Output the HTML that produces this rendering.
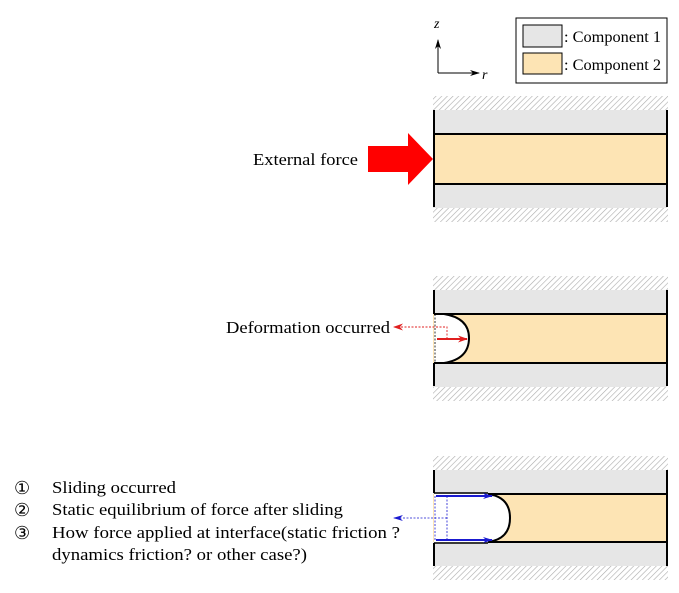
<!DOCTYPE html>
<html><head><meta charset="utf-8"><style>
body{margin:0;background:#fff;}
svg text{font-family:"Liberation Serif",serif;fill:#000;}
</style></head><body>
<svg width="679" height="588" viewBox="0 0 679 588" xmlns="http://www.w3.org/2000/svg">
<defs>
<pattern id="h" width="4" height="4" patternUnits="userSpaceOnUse" patternTransform="rotate(45)">
<rect width="4" height="4" fill="#fff"/><line x1="0" y1="0" x2="0" y2="4" stroke="#aaa" stroke-width="1.2"/>
</pattern>
<marker id="ar" markerWidth="10" markerHeight="7" refX="9" refY="3.5" orient="auto" markerUnits="userSpaceOnUse"><path d="M0,0 L10,3.5 L0,7 L3,3.5z" fill="#e02020"/></marker>
<marker id="ab" markerWidth="10" markerHeight="6" refX="9" refY="3" orient="auto" markerUnits="userSpaceOnUse"><path d="M0,0 L10,3 L0,6 L3,3z" fill="#1a1ad0"/></marker>
<marker id="ak" markerWidth="10" markerHeight="6" refX="9" refY="3" orient="auto" markerUnits="userSpaceOnUse"><path d="M0,0 L10,3 L0,6 L3,3z" fill="#000"/></marker>
</defs>

<!-- legend -->
<rect x="516" y="18" width="151" height="65" fill="#fff" stroke="#000" stroke-width="1"/>
<rect x="523" y="25" width="39" height="22" fill="#e6e6e6" stroke="#000"/>
<rect x="523" y="53" width="39" height="21" fill="#fde4b4" stroke="#000"/>
<text x="564" y="42" font-size="16" textLength="97" lengthAdjust="spacingAndGlyphs">: Component 1</text>
<text x="564" y="70" font-size="16" textLength="97" lengthAdjust="spacingAndGlyphs">: Component 2</text>
<!-- axes -->
<line x1="438" y1="73" x2="438" y2="40" stroke="#000" marker-end="url(#ak)"/>
<line x1="438" y1="73" x2="479" y2="73" stroke="#000" marker-end="url(#ak)"/>
<text x="434" y="28" font-size="14" font-style="italic">z</text>
<text x="482" y="79" font-size="14" font-style="italic">r</text>

<!-- panel 1 -->
<rect x="433" y="96" width="235" height="14" fill="url(#h)"/>
<rect x="433" y="110" width="234" height="24" fill="#e6e6e6"/>
<rect x="433" y="134" width="234" height="50" fill="#fde4b4"/>
<rect x="433" y="184" width="234" height="24" fill="#e6e6e6"/>
<rect x="433" y="208" width="235" height="14" fill="url(#h)"/>
<line x1="434" y1="134" x2="667" y2="134" stroke="#000" stroke-width="2"/>
<line x1="434" y1="184" x2="667" y2="184" stroke="#000" stroke-width="2"/>
<line x1="434" y1="110" x2="434" y2="207" stroke="#000" stroke-width="2"/>
<line x1="667" y1="110" x2="667" y2="207" stroke="#000" stroke-width="2"/>
<path d="M368,146 L408,146 L408,133 L433,159 L408,185 L408,172 L368,172z" fill="#f00"/>
<text x="253" y="165" font-size="17" textLength="105" lengthAdjust="spacingAndGlyphs">External force</text>

<!-- panel 2 -->
<rect x="433" y="276" width="235" height="14" fill="url(#h)"/>
<rect x="433" y="290" width="234" height="24" fill="#e6e6e6"/>
<rect x="433" y="314" width="234" height="49" fill="#fde4b4"/>
<rect x="433" y="363" width="234" height="24" fill="#e6e6e6"/>
<rect x="433" y="387" width="235" height="14" fill="url(#h)"/>
<path d="M434,314 L444,314 Q469,318 469,338 Q469,359 444,363 L434,363z" fill="#fff"/>
<path d="M434,314 L444,314 Q469,318 469,338 Q469,359 444,363 L434,363" fill="none" stroke="#000" stroke-width="2"/>
<line x1="434" y1="314" x2="667" y2="314" stroke="#000" stroke-width="2"/>
<line x1="434" y1="363" x2="667" y2="363" stroke="#000" stroke-width="2"/>
<line x1="434" y1="290" x2="434" y2="314" stroke="#000" stroke-width="2"/>
<line x1="434" y1="363" x2="434" y2="386" stroke="#000" stroke-width="2"/>
<line x1="667" y1="290" x2="667" y2="386" stroke="#000" stroke-width="2"/>
<line x1="435" y1="314" x2="435" y2="363" stroke="#000" stroke-width="0.8" stroke-dasharray="2,1.5"/>
<line x1="437" y1="339" x2="467" y2="339" stroke="#e02020" stroke-width="2" marker-end="url(#ar)"/>
<path d="M447,339 L447,327 L394,327" fill="none" stroke="#e02020" stroke-width="0.9" stroke-dasharray="2,1.5" marker-end="url(#ar)"/>
<text x="226" y="333" font-size="17" textLength="164" lengthAdjust="spacingAndGlyphs">Deformation occurred</text>

<!-- panel 3 -->
<rect x="433" y="456" width="235" height="14" fill="url(#h)"/>
<rect x="433" y="470" width="234" height="24" fill="#e6e6e6"/>
<rect x="433" y="494" width="234" height="48" fill="#fde4b4"/>
<rect x="433" y="542" width="234" height="24" fill="#e6e6e6"/>
<rect x="433" y="566" width="235" height="14" fill="url(#h)"/>
<path d="M434,494 L488,494 Q510,497 510,518 Q510,539 488,542 L434,542z" fill="#fff"/>
<path d="M488,494 Q510,497 510,518 Q510,539 488,542" fill="none" stroke="#000" stroke-width="2"/>
<line x1="488" y1="494" x2="667" y2="494" stroke="#000" stroke-width="2"/>
<line x1="488" y1="542" x2="667" y2="542" stroke="#000" stroke-width="2"/>
<line x1="434" y1="493" x2="488" y2="493" stroke="#000" stroke-width="1.5"/>
<line x1="434" y1="543" x2="488" y2="543" stroke="#000" stroke-width="1.5"/>
<line x1="434" y1="470" x2="434" y2="493" stroke="#000" stroke-width="2"/>
<line x1="434" y1="543" x2="434" y2="566" stroke="#000" stroke-width="2"/>
<line x1="667" y1="470" x2="667" y2="566" stroke="#000" stroke-width="2"/>
<line x1="436" y1="496" x2="492" y2="496" stroke="#1a1ad0" stroke-width="2" marker-end="url(#ab)"/>
<line x1="436" y1="540" x2="492" y2="540" stroke="#1a1ad0" stroke-width="2" marker-end="url(#ab)"/>
<line x1="435" y1="496" x2="435" y2="540" stroke="#1a1ad0" stroke-width="0.8" stroke-dasharray="2,1.5"/>
<line x1="447" y1="496" x2="447" y2="540" stroke="#1a1ad0" stroke-width="0.8" stroke-dasharray="2,1.5"/>
<line x1="447" y1="518" x2="394" y2="518" stroke="#1a1ad0" stroke-width="0.8" stroke-dasharray="2,1.5" marker-end="url(#ab)"/>

<text x="14" y="494" font-size="18" font-family="'Liberation Serif','Noto Sans CJK JP',serif">①</text>
<text x="14" y="516" font-size="18" font-family="'Liberation Serif','Noto Sans CJK JP',serif">②</text>
<text x="14" y="539" font-size="18" font-family="'Liberation Serif','Noto Sans CJK JP',serif">③</text>
<text x="52" y="493" font-size="17" textLength="124" lengthAdjust="spacingAndGlyphs">Sliding occurred</text>
<text x="52" y="515" font-size="17" textLength="291" lengthAdjust="spacingAndGlyphs">Static equilibrium of force after sliding</text>
<text x="52" y="538" font-size="17" textLength="348" lengthAdjust="spacingAndGlyphs">How force applied at interface(static friction ?</text>
<text x="52" y="560" font-size="17" textLength="255" lengthAdjust="spacingAndGlyphs">dynamics friction? or other case?)</text>
</svg>
</body></html>
